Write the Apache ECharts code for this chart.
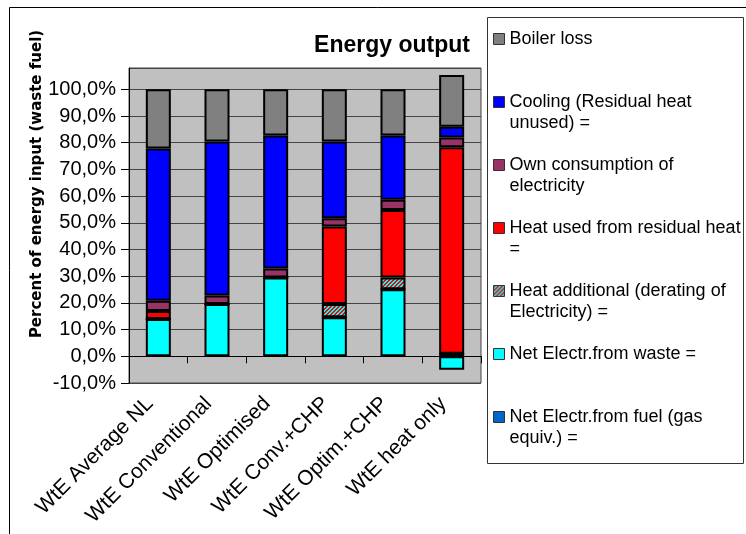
<!DOCTYPE html>
<html>
<head>
<meta charset="utf-8">
<script src="https://cdn.jsdelivr.net/npm/echarts@6/dist/echarts.min.js"></script>
<style>
  html, body { margin: 0; padding: 0; background: #fff; }
  #chart { width: 746px; height: 534px; }
</style>
</head>
<body>
<div id="chart"></div>
<script>
// Plant configurations
const categories = ['WtE Average NL', 'WtE Conventional', 'WtE Optimised', 'WtE Conv.+CHP', 'WtE Optim.+CHP', 'WtE heat only'];

// Energy balance, percent of energy input (waste fuel)
const netElectrWaste = [14.0, 19.6, 29.5, 14.6, 25.1, -5.0];
const netElectrFuel  = [0, 0, 0, 0, 0, 1.0];
const heatAdditional = [0, 0, 0, 5.0, 4.4, 0];
const heatUsed       = [3.0, 0, 0, 29.0, 25.3, 77.3];
const ownConsumption = [3.8, 3.2, 3.4, 3.1, 3.8, 3.7];
const cooling        = [57.0, 57.7, 49.8, 28.8, 24.1, 4.0];
const boilerLoss     = [22.2, 19.5, 17.3, 19.5, 17.3, 19.4];

// Axis ticks
const yMin = -10, yMax = 108, yStep = 10;

// Legend captions (wrapped as in the chart's legend box)
const legendOrder = [
  'Boiler loss',
  'Cooling (Residual heat unused) =',
  'Own consumption of electricity',
  'Heat used from residual heat =',
  'Heat additional (derating of Electricity) =',
  'Net Electr.from waste =',
  'Net Electr.from fuel (gas equiv.) ='
];
const legendText = {
  'Boiler loss': 'Boiler loss\n',
  'Cooling (Residual heat unused) =': 'Cooling (Residual heat\nunused) =',
  'Own consumption of electricity': 'Own consumption of\nelectricity',
  'Heat used from residual heat =': 'Heat used from residual heat\n=',
  'Heat additional (derating of Electricity) =': 'Heat additional (derating of\nElectricity) =',
  'Net Electr.from waste =': 'Net Electr.from waste =\n',
  'Net Electr.from fuel (gas equiv.) =': 'Net Electr.from fuel (gas\nequiv.) ='
};

// Red / cyan diagonal hatch for the derating segment, drawn pixel by pixel
function hatchPattern() {
  const n = 4;
  const c = document.createElement('canvas');
  c.width = n; c.height = n;
  const g = c.getContext('2d');
  for (let y = 0; y < n; y++) {
    for (let x = 0; x < n; x++) {
      g.fillStyle = ((x + y) % n) < 2 ? '#FF0000' : '#00FFFF';
      g.fillRect(x, y, 1, 1);
    }
  }
  return { image: c, repeat: 'repeat' };
}

const FONT = '"Liberation Sans", Arial, sans-serif';

function barSeries(name, data, color) {
  return {
    name: name,
    type: 'bar',
    stack: 'total',
    barWidth: 25,
    data: data,
    itemStyle: { color: color, borderColor: '#000', borderWidth: 2 },
    emphasis: { disabled: true }
  };
}

const chart = echarts.init(document.getElementById('chart'), null, { renderer: 'canvas' });

chart.setOption({
  animation: false,
  backgroundColor: '#fff',
  title: {
    text: 'Energy output',
    right: 276,
    top: 34,
    padding: 0,
    textStyle: { fontFamily: FONT, fontWeight: 'bold', fontSize: 23, color: '#000' }
  },
  grid: {
    left: 129, right: 265, top: 68, bottom: 151,
    show: true,
    backgroundColor: '#C0C0C0',
    borderColor: '#444',
    borderWidth: 1
  },
  legend: {
    orient: 'vertical',
    left: 493,
    top: 7.5,
    padding: 0,
    itemGap: 0,
    itemWidth: 11,
    itemHeight: 11,
    icon: 'rect',
    selectedMode: false,
    data: legendOrder,
    formatter: function (name) { return '\n' + legendText[name]; },
    textStyle: { fontFamily: FONT, fontSize: 18, lineHeight: 21, color: '#000' },
    itemStyle: { borderColor: '#333', borderWidth: 1 }
  },
  xAxis: {
    type: 'category',
    data: categories,
    boundaryGap: true,
    axisLine: { show: true, lineStyle: { color: '#000', width: 1 } },
    axisTick: { show: true, interval: 0, length: 7, lineStyle: { color: '#000' } },
    axisLabel: {
      interval: 0,
      rotate: 45,
      margin: 9,
      padding: [0, 12, 0, 0],
      fontFamily: FONT,
      fontSize: 21,
      color: '#000'
    },
    splitLine: { show: false }
  },
  yAxis: {
    type: 'value',
    min: yMin,
    max: yMax,
    interval: yStep,
    axisLine: { show: true, lineStyle: { color: '#000', width: 1 } },
    axisTick: { show: true, length: 8, lineStyle: { color: '#000' } },
    axisLabel: {
      margin: 13,
      fontFamily: FONT,
      fontSize: 20,
      color: '#000',
      showMaxLabel: false,
      formatter: function (v) {
        if (v > 100) return '';
        return v.toFixed(1).replace('.', ',') + '%';
      }
    },
    splitLine: { show: true, lineStyle: { color: '#444', width: 1 } }
  },
  graphic: [
    {
      type: 'polyline',
      shape: { points: [[9.5, 534], [9.5, 7.5], [746, 7.5]] },
      style: { stroke: '#000', lineWidth: 1, fill: null },
      silent: true
    },
    {
      type: 'rect',
      shape: { x: 487.5, y: 17.5, width: 256, height: 446 },
      style: { stroke: '#333', lineWidth: 1, fill: null },
      silent: true
    },
    {
      type: 'text',
      x: 37,
      y: 184,
      rotation: Math.PI / 2,
      style: {
        text: 'Percent of energy input (waste fuel)',
        font: 'bold 15px "DejaVu Sans", sans-serif',
        fill: '#000',
        align: 'center',
        verticalAlign: 'middle'
      },
      silent: true
    }
  ],
  series: [
    barSeries('Net Electr.from waste =', netElectrWaste, '#00FFFF'),
    barSeries('Net Electr.from fuel (gas equiv.) =', netElectrFuel, '#0066CC'),
    barSeries('Heat additional (derating of Electricity) =', heatAdditional, hatchPattern()),
    barSeries('Heat used from residual heat =', heatUsed, '#FF0000'),
    barSeries('Own consumption of electricity', ownConsumption, '#993366'),
    barSeries('Cooling (Residual heat unused) =', cooling, '#0000FF'),
    barSeries('Boiler loss', boilerLoss, '#808080')
  ]
});
</script>
</body>
</html>
